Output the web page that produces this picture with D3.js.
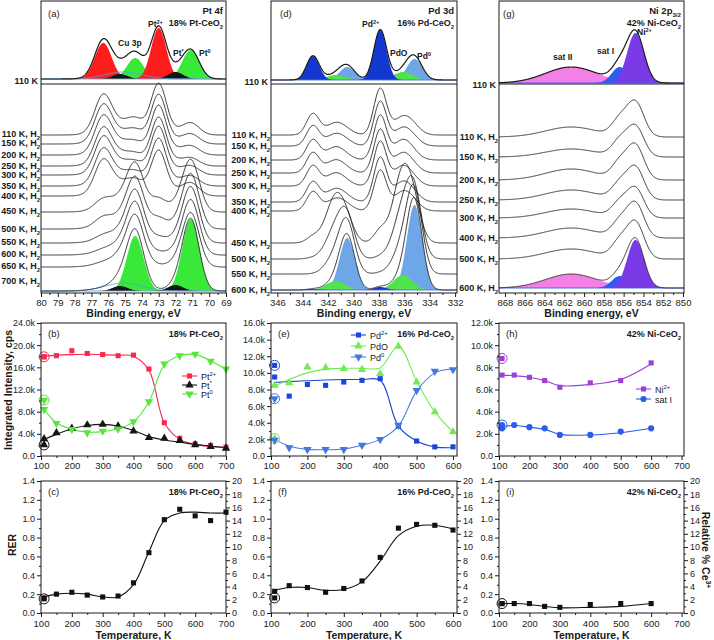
<!DOCTYPE html>
<html><head><meta charset="utf-8">
<script src="https://cdn.jsdelivr.net/npm/d3@7"></script>
<style>body{margin:0;background:#fff}svg{display:block}</style>
</head><body><svg id="chart" width="714" height="640"></svg>
<script>
// ======================= DATA =======================
// (a) Pt 4f spectra: fit components [Pt2+ 7/2, Pt2+ 5/2, Pt0 7/2, Pt0 5/2, Pt* 7/2, Pt* 5/2, Cu 3p]
const ptCenters    = [73.0, 76.3, 71.1, 74.4, 72.0, 75.3, 75.1];
const ptSigmas     = [0.45, 0.50, 0.50, 0.50, 0.45, 0.45, 1.10];
const ptFitHeights = [51, 36, 29, 21, 7, 5, 7];
const ptFitOffset  = 5;
const ptTempLabels = ["110 K","150 K","200 K","250 K","300 K","350 K","400 K","450 K","500 K","550 K","600 K","650 K","700 K"];
const ptOffsets    = [158,149,138,127,118,107,97,81,64,50,38,26,2];
const ptLabelLevels= [159,150,138,127,118,107,97,82,64,51,39,27,12];
const ptHeights = [
  [50,36,12,10,3,2,9],[48,35,10,8,3,2,9],[48,35,9,7,4,3,9],[47,34,8,6,4,3,9],
  [47,34,9,7,4,3,9],[46,33,10,8,4,3,9],[44,32,13,10,4,3,9],[12,9,52,42,5,4,9],
  [10,8,55,45,4,3,9],[5,4,56,46,4,3,9],[2,2,55,46,4,3,9],[1,1,54,45,4,3,9],[0,0,72,55,6,5,8]
];
// (d) Pd 3d spectra: [Pd2+ 5/2, Pd2+ 3/2, Pd0 5/2, Pd0 3/2, PdO 5/2, PdO 3/2]
const pdCenters    = [337.9, 343.2, 335.2, 340.5, 336.1, 341.4];
const pdSigmas     = [0.50, 0.50, 0.60, 0.60, 0.75, 0.75];
const pdFitHeights = [50, 24, 21, 13, 8, 5];
const pdFitOffset  = 4;
const pdTempLabels = ["110 K","150 K","200 K","250 K","300 K","350 K","400 K","450 K","500 K","550 K","600 K"];
const pdOffsets    = [158,147,133,120,107,91,82,50,34,19,3];
const pdHeights = [
  [46,21,4,2,18,12],[44,20,3,2,18,12],[44,20,2,1,20,13],[43,20,2,1,20,13],
  [44,20,2,1,20,13],[44,20,3,2,20,13],[40,19,4,3,19,12],[12,6,20,12,72,46],
  [2,1,55,35,48,30],[1,0,75,47,28,18],[3,1,85,52,15,9]
];
// (g) Ni 2p3/2 spectra: [Ni2+, sat I, sat II]
const niCenters    = [854.8, 856.4, 861.3];
const niSigmas     = [0.85, 0.80, 2.6];
const niFitHeights = [50, 16, 16];
const niFitOffset  = 1;
const niTempLabels = ["110 K","150 K","200 K","250 K","300 K","400 K","500 K","600 K"];
const niOffsets    = [156,136,113,93,75,55,34,5];
const niHeights = [[34,16,10],[30,15,8],[34,16,11],[32,15,10],[29,14,9],[34,15,10],[36,16,10],[48,12,14]];

// (b) integrated intensities, k cps
const tempsPt   = [110,150,200,250,300,350,400,450,500,550,600,650,700];
const ptPt2     = [17.9,18.1,19.0,18.5,18.3,18.1,18.2,15.7,6.0,3.2,2.2,1.9,1.6];
const ptPtStar  = [3.1,4.2,5.0,5.6,5.7,5.4,4.5,3.3,3.2,2.8,2.0,1.7,1.4];
const ptPt0     = [8.4,5.9,4.8,4.2,4.5,4.9,6.2,9.8,16.6,18.1,18.4,17.1,15.7];
const ptFitPt2  = [18.0,18.2,18.3,18.35,18.3,18.2,18.0,15.5,6.0,3.0,2.1,1.7,1.6];
const ptFitStar = [3.0,3.9,4.9,5.5,5.7,5.4,4.6,3.5,2.9,2.5,2.1,1.8,1.5];
const ptFitPt0  = [8.4,6.0,4.8,4.3,4.4,4.9,6.2,9.8,16.4,18.1,18.3,17.2,15.6];
const ptFresh   = [17.9, 2.0, 10.1];
// (e)
const tempsPd   = [110,150,200,250,300,350,400,450,500,550,600];
const pdPd2     = [9.5,7.2,8.6,8.5,8.9,9.1,9.3,3.6,1.8,1.1,1.1];
const pdPdO     = [8.5,8.8,10.7,10.6,10.5,10.4,9.9,13.2,8.9,5.3,2.9];
const pdPd0     = [1.9,1.0,0.8,0.8,0.8,1.3,2.0,3.7,7.9,10.2,10.4];
const pdFitPd2  = [8.85,8.95,9.05,9.15,9.2,9.2,9.1,3.6,1.8,1.1,1.0];
const pdFitPdO  = [8.4,9.2,10.0,10.45,10.55,10.55,10.6,13.2,9.0,5.3,2.9];
const pdFitPd0  = [2.0,1.2,0.8,0.75,0.85,1.3,2.0,3.6,7.8,10.0,10.5];
const pdFresh   = [10.9, 2.1, 6.9];
// (h)
const tempsNi   = [110,150,200,250,300,400,500,600];
const niNi2     = [7.3,7.3,7.1,6.8,6.2,6.6,6.8,8.4];
const niSat     = [2.5,2.8,2.6,2.5,1.9,1.9,2.2,2.5];
const niFitNi2  = [7.3,7.25,7.1,6.8,6.35,6.45,6.9,8.3];
const niFitSat  = [2.65,2.75,2.6,2.4,1.95,1.9,2.1,2.5];
const niFresh   = [8.8, 2.8];
// (c) (f) (i) RER
const rerPt     = [0.16,0.20,0.22,0.19,0.17,0.18,0.32,0.64,0.99,1.10,1.03,0.98,1.07];
const rerPtFit  = [0.17,0.20,0.21,0.20,0.17,0.17,0.30,0.65,0.98,1.06,1.07,1.06,1.06];
const rerPd     = [0.23,0.29,0.27,0.22,0.26,0.34,0.59,0.90,0.94,0.93,0.88];
const rerPdFit  = [0.24,0.27,0.27,0.24,0.25,0.33,0.55,0.82,0.92,0.93,0.89];
const rerNi     = [0.10,0.10,0.10,0.07,0.06,0.09,0.10,0.10];
const rerNiFit  = [0.10,0.10,0.09,0.07,0.055,0.06,0.07,0.10];
const rerFresh  = [0.15, 0.16, 0.10];

// ======================= DRAWING =======================
const FONT = "'Liberation Sans', Arial, Helvetica, sans-serif";
const INK = "#1a1a1a";
const svg = d3.select("#chart");
svg.append("rect").attr("width",714).attr("height",640).attr("fill","#fff");
const COLS = [[41,226],[271,457],[499,684]];
const SPEC = {top:1, split:84, bot:293};
const MID = {top:323, bot:456};
const LOW = {top:481, bot:613};

function rich(parent, x, y, parts, opt) {
  opt = opt || {};
  const size = opt.size || 9;
  const t = parent.append("text").attr("x", x).attr("y", y)
    .attr("font-family", FONT).attr("font-size", size)
    .attr("font-weight", opt.weight || "normal")
    .attr("text-anchor", opt.anchor || "start").attr("fill", opt.fill || INK);
  if (opt.transform) t.attr("transform", opt.transform);
  let shift = 0;
  parts.forEach(p => {
    const [str, kind] = typeof p === "string" ? [p, "n"] : p;
    const target = kind === "sup" ? -size * 0.4 : kind === "sub" ? size * 0.28 : 0;
    const ts = t.append("tspan").text(str);
    if (target - shift !== 0) ts.attr("dy", target - shift);
    if (kind !== "n") ts.attr("font-size", size * 0.65);
    shift = target;
  });
  return t;
}

function axis(orient, scale, majors, minors, fmt, pos, pad, fs) {
  const mk = {bottom: d3.axisBottom, left: d3.axisLeft, right: d3.axisRight}[orient];
  const tr = orient === "bottom" ? `translate(0,${pos})` : `translate(${pos},0)`;
  const gm = svg.append("g").attr("transform", tr).call(mk(scale).tickValues(minors).tickSize(2).tickFormat(""));
  const gM = svg.append("g").attr("transform", tr).call(mk(scale).tickValues(majors).tickSize(4).tickPadding(pad || 2).tickFormat(fmt));
  [gm, gM].forEach(s => { s.select(".domain").remove(); s.selectAll("line").attr("stroke", INK); });
  gM.selectAll("text").attr("font-size", fs || 9.5).attr("font-family", FONT).attr("fill", "#222");
}

const gauss = (x, c, s, h) => h * Math.exp(-((x - c) ** 2) / (2 * s * s));

function spectraPanel(p) {
  const [x0, x1] = COLS[p.col];
  const x = d3.scaleLinear().domain(p.xDomain).range([x0, x1]);
  const yT = d3.scaleLinear().domain([0, SPEC.split - SPEC.top]).range([SPEC.split, SPEC.top]);
  const yL = d3.scaleLinear().domain([0, SPEC.bot - SPEC.split]).range([SPEC.bot, SPEC.split]);
  const id = "clipS" + p.col;
  svg.append("clipPath").attr("id", id).append("rect").attr("x", x0).attr("y", SPEC.top)
    .attr("width", x1 - x0).attr("height", SPEC.bot - SPEC.top);
  const g = svg.append("g").attr("clip-path", `url(#${id})`);
  const xs = d3.range(0, 701).map(i => p.xDomain[0] + (p.xDomain[1] - p.xDomain[0]) * i / 700);
  const all = d3.range(p.centers.length);
  const sum = (h, idx, xv) => idx.reduce((s, i) => s + gauss(xv, p.centers[i], p.sigmas[i], h[i]), 0);
  function drawFit(h, off, y) {
    p.groups.forEach(gr => {
      const pts = xs.map(xv => [xv, sum(h, gr.idx, xv)]);
      if (gr.fill) {
        g.append("path").datum(pts).attr("fill", gr.color).attr("stroke", "none")
          .attr("d", d3.area().x(d => x(d[0])).y0(y(off)).y1(d => y(off + d[1])));
      } else {
        g.append("path").datum(pts).attr("fill", "none").attr("stroke", gr.color).attr("stroke-width", 0.9)
          .attr("d", d3.line().x(d => x(d[0])).y(d => y(off + d[1])));
      }
    });
    g.append("line").attr("x1", x0).attr("x2", x1).attr("y1", y(off)).attr("y2", y(off))
      .attr("stroke", p.baseColor).attr("stroke-width", 0.9);
  }
  function envelope(h, off, y, w) {
    const pts = xs.map(xv => [xv, off + sum(h, all, xv)]);
    g.append("path").datum(pts).attr("fill", "none").attr("stroke", INK).attr("stroke-width", w)
      .attr("stroke-linejoin", "round").attr("d", d3.line().x(d => x(d[0])).y(d => y(d[1])));
  }
  drawFit(p.fitHeights, p.fitOffset, yT);
  envelope(p.fitHeights, p.fitOffset, yT, 1.2);
  p.offsets.forEach((off, j) => {
    if (j === p.offsets.length - 1) drawFit(p.heights[j], off, yL);
    envelope(p.heights[j], off, yL, 0.9);
  });
  svg.append("rect").attr("x", x0).attr("y", SPEC.top).attr("width", x1 - x0).attr("height", SPEC.bot - SPEC.top)
    .attr("fill", "none").attr("stroke", INK).attr("stroke-width", 1);
  svg.append("line").attr("x1", x0).attr("x2", x1).attr("y1", SPEC.split).attr("y2", SPEC.split).attr("stroke", INK);
  axis("bottom", x, p.majors, p.minors, d3.format("d"), SPEC.bot, 2);
  rich(svg, (x0 + x1) / 2, 317, ["Binding energy, eV"], {size: 10.5, weight: "bold", anchor: "middle"});
  rich(svg, x0 - 3, yT(p.fitOffset) + 5, ["110 K"], {size: 9, weight: "bold", anchor: "end"});
  p.labels.forEach((t, j) => {
    const lv = p.labelLevels ? p.labelLevels[j] : p.offsets[j];
    rich(svg, x0 - 1, yL(lv) + 3, [t + ", H", ["2", "sub"]], {size: 9, weight: "bold", anchor: "end"});
  });
  p.texts.forEach(t => rich(svg, t.x, t.y, t.parts, t.opt));
}

spectraPanel({
  col: 0, xDomain: [80, 69], centers: ptCenters, sigmas: ptSigmas, fitHeights: ptFitHeights, fitOffset: ptFitOffset,
  offsets: ptOffsets, heights: ptHeights, labels: ptTempLabels, labelLevels: ptLabelLevels, baseColor: "#7fa8d8",
  groups: [{idx:[2,3], fill:true, color:"#3ae83a"}, {idx:[0,1], fill:true, color:"#ff1c1c"},
           {idx:[4,5], fill:true, color:"#151515"}, {idx:[6], fill:false, color:"#4aa6e0"}],
  majors: d3.range(69, 81, 1), minors: d3.range(69.5, 80, 1),
  texts: [
    {x:48, y:17, parts:["(a)"], opt:{size:9.5}},
    {x:223, y:14, parts:["Pt 4f"], opt:{size:9.5, weight:"bold", anchor:"end"}},
    {x:223, y:26, parts:["18% Pt-CeO", ["2","sub"]], opt:{size:9, weight:"bold", anchor:"end"}},
    {x:118, y:46, parts:["Cu 3p"], opt:{size:8.5, weight:"bold"}},
    {x:148, y:27, parts:["Pt", ["2+","sup"]], opt:{size:8.5, weight:"bold"}},
    {x:173, y:56, parts:["Pt", ["*","sup"]], opt:{size:8.5, weight:"bold"}},
    {x:199, y:56, parts:["Pt", ["0","sup"]], opt:{size:8.5, weight:"bold"}}
  ]
});
spectraPanel({
  col: 1, xDomain: [346.5, 331.85], centers: pdCenters, sigmas: pdSigmas, fitHeights: pdFitHeights, fitOffset: pdFitOffset,
  offsets: pdOffsets, heights: pdHeights, labels: pdTempLabels, baseColor: "#4b6fd6",
  groups: [{idx:[2,3], fill:true, color:"#6fa6e8"}, {idx:[4,5], fill:true, color:"#4ee44e"},
           {idx:[0,1], fill:true, color:"#1238d0"}],
  majors: d3.range(332, 347, 2), minors: d3.range(333, 346, 2),
  texts: [
    {x:280, y:17, parts:["(d)"], opt:{size:9.5}},
    {x:454, y:14, parts:["Pd 3d"], opt:{size:9.5, weight:"bold", anchor:"end"}},
    {x:454, y:26, parts:["16% Pd-CeO", ["2","sub"]], opt:{size:9, weight:"bold", anchor:"end"}},
    {x:362, y:27, parts:["Pd", ["2+","sup"]], opt:{size:8.5, weight:"bold"}},
    {x:390, y:56, parts:["PdO"], opt:{size:8.5, weight:"bold"}},
    {x:417, y:59, parts:["Pd", ["0","sup"]], opt:{size:8.5, weight:"bold"}}
  ]
});
spectraPanel({
  col: 2, xDomain: [868.6, 849.9], centers: niCenters, sigmas: niSigmas, fitHeights: niFitHeights, fitOffset: niFitOffset,
  offsets: niOffsets, heights: niHeights, labels: niTempLabels, baseColor: "#3d5ff0",
  groups: [{idx:[2], fill:true, color:"#f47fe6"}, {idx:[1], fill:true, color:"#2f5cf0"},
           {idx:[0], fill:true, color:"#7a3ae6"}],
  majors: d3.range(850, 869, 2), minors: d3.range(851, 868, 2),
  texts: [
    {x:503, y:17, parts:["(g)"], opt:{size:9.5}},
    {x:681, y:14, parts:["Ni 2p", ["3/2","sub"]], opt:{size:9.5, weight:"bold", anchor:"end"}},
    {x:681, y:26, parts:["42% Ni-CeO", ["2","sub"]], opt:{size:9, weight:"bold", anchor:"end"}},
    {x:637, y:35, parts:["Ni", ["2+","sup"]], opt:{size:8.5, weight:"bold"}},
    {x:597, y:54, parts:["sat I"], opt:{size:8.5, weight:"bold"}},
    {x:553, y:60, parts:["sat II"], opt:{size:8.5, weight:"bold"}}
  ]
});

// ---------- series panels ----------
const SYM = {
  square: d3.symbol().type(d3.symbolSquare).size(26)(),
  up: d3.symbol().type(d3.symbolTriangle).size(30)(),
  circle: d3.symbol().type(d3.symbolCircle).size(30)()
};
function marker(parent, cx, cy, kind, color) {
  const path = kind === "down" ? SYM.up : SYM[kind];
  parent.append("path").attr("d", path).attr("fill", color)
    .attr("transform", `translate(${cx},${cy})` + (kind === "down" ? " rotate(180)" : ""));
}

function seriesPanel(p) {
  const [x0, x1] = COLS[p.col];
  const x = d3.scaleLinear().domain(p.xDomain).range([x0, x1]);
  const y = d3.scaleLinear().domain(p.yDomain).range([p.bot, p.top]);
  const line = d3.line().curve(d3.curveCatmullRom.alpha(0.5)).x(d => x(d[0])).y(d => y(d[1]));
  const g = svg.append("g");
  p.series.forEach(s => {
    g.append("path").datum(s.temps.map((t, i) => [t, s.fit[i]])).attr("fill", "none")
      .attr("stroke", s.lineColor || s.color).attr("stroke-width", 1.1).attr("d", line);
  });
  p.series.forEach(s => {
    s.temps.forEach((t, i) => marker(g, x(t), y(s.vals[i]), s.sym, s.color));
    marker(g, x(110), y(s.fresh), s.sym, s.color);
    g.append("circle").attr("cx", x(110)).attr("cy", y(s.fresh)).attr("r", 5)
      .attr("fill", "none").attr("stroke", s.color).attr("stroke-width", 1);
  });
  svg.append("rect").attr("x", x0).attr("y", p.top).attr("width", x1 - x0).attr("height", p.bot - p.top)
    .attr("fill", "none").attr("stroke", INK).attr("stroke-width", 1);
  const xm = d3.range(100, p.xDomain[1] + 1, 100), xn = d3.range(150, p.xDomain[1], 100);
  axis("bottom", x, xm, xn, d3.format("d"), p.bot, p.xPad || 2, 9.5);
  axis("left", y, p.yMajors, p.yMinors, p.yFmt, x0, 2, 9);
  if (p.right) {
    const yr = d3.scaleLinear().domain([0, 20]).range([p.bot, p.top]);
    axis("right", yr, d3.range(0, 21, 2), d3.range(1, 20, 2), d3.format("d"), x1, 2, 9);
  }
  rich(svg, x0 + 7, p.top + 14, [p.letter], {size: 9.5});
  rich(svg, x1 - 3, p.top + 14, p.sample, {size: 9, weight: "bold", anchor: "end"});
  if (p.legend) {
    const L = p.legend;
    p.series.forEach((s, i) => {
      const ly = L.y + i * L.dy;
      svg.append("line").attr("x1", L.x).attr("x2", L.x + 15).attr("y1", ly).attr("y2", ly)
        .attr("stroke", s.lineColor || s.color).attr("stroke-width", 1.1);
      marker(svg, L.x + 7.5, ly, s.sym, s.color);
      rich(svg, L.x + 19, ly + 3.5, s.label, {size: 9});
    });
  }
  if (p.bottomTitle) rich(svg, (x0 + x1) / 2, 639, ["Temperature, K"], {size: 10.5, weight: "bold", anchor: "middle"});
}
const kFmt = d => d === 0 ? "0.0" : d.toFixed(1) + "k";
const odd = (a, b) => d3.range(a, b, 2);

seriesPanel({col:0, top:MID.top, bot:MID.bot, xDomain:[100,700], yDomain:[0,24],
  yMajors:d3.range(0,25,4), yMinors:d3.range(2,24,4), yFmt:kFmt, letter:"(b)",
  sample:["18% Pt-CeO", ["2","sub"]], legend:{x:182, y:376, dy:9},
  series:[
    {temps:tempsPt, vals:ptPt2, fit:ptFitPt2, fresh:ptFresh[0], sym:"square", color:"#f52a4e", label:["Pt", ["2+","sup"]]},
    {temps:tempsPt, vals:ptPtStar, fit:ptFitStar, fresh:ptFresh[1], sym:"up", color:"#151515", label:["Pt", ["*","sup"]]},
    {temps:tempsPt, vals:ptPt0, fit:ptFitPt0, fresh:ptFresh[2], sym:"down", color:"#58e63c", label:["Pt", ["0","sup"]]}
  ]});
seriesPanel({col:1, top:MID.top, bot:MID.bot, xDomain:[100,611], yDomain:[0,16],
  yMajors:d3.range(0,17,2), yMinors:odd(1,16), yFmt:kFmt, letter:"(e)",
  sample:["16% Pd-CeO", ["2","sub"]], legend:{x:351, y:335, dy:11},
  series:[
    {temps:tempsPd, vals:pdPd2, fit:pdFitPd2, fresh:pdFresh[0], sym:"square", color:"#1846d6", label:["Pd", ["2+","sup"]]},
    {temps:tempsPd, vals:pdPdO, fit:pdFitPdO, fresh:pdFresh[1], sym:"up", color:"#74ea56", label:["PdO"]},
    {temps:tempsPd, vals:pdPd0, fit:pdFitPd0, fresh:pdFresh[2], sym:"down", color:"#4477e2", label:["Pd", ["0","sup"]]}
  ]});
seriesPanel({col:2, top:MID.top, bot:MID.bot, xDomain:[100,708], yDomain:[0,12],
  yMajors:d3.range(0,13,2), yMinors:odd(1,12), yFmt:kFmt, letter:"(h)",
  sample:["42% Ni-CeO", ["2","sub"]], legend:{x:636, y:389, dy:10},
  series:[
    {temps:tempsNi, vals:niNi2, fit:niFitNi2, fresh:niFresh[0], sym:"square", color:"#9a3fd8", label:["Ni", ["2+","sup"]]},
    {temps:tempsNi, vals:niSat, fit:niFitSat, fresh:niFresh[1], sym:"circle", color:"#2d5bea", label:["sat I"]}
  ]});

const rFmt = d => d.toFixed(1);
const rMaj = d3.range(0, 8).map(i => i * 0.2), rMin = d3.range(0, 7).map(i => i * 0.2 + 0.1);
seriesPanel({col:0, top:LOW.top, bot:LOW.bot, xDomain:[100,700], yDomain:[0,1.4], xPad:3,
  yMajors:rMaj, yMinors:rMin, yFmt:rFmt, letter:"(c)", right:true, bottomTitle:true,
  sample:["18% Pt-CeO", ["2","sub"]],
  series:[{temps:tempsPt, vals:rerPt, fit:rerPtFit, fresh:rerFresh[0], sym:"square", color:"#111"}]});
seriesPanel({col:1, top:LOW.top, bot:LOW.bot, xDomain:[100,611], yDomain:[0,1.4], xPad:3,
  yMajors:rMaj, yMinors:rMin, yFmt:rFmt, letter:"(f)", right:true, bottomTitle:true,
  sample:["16% Pd-CeO", ["2","sub"]],
  series:[{temps:tempsPd, vals:rerPd, fit:rerPdFit, fresh:rerFresh[1], sym:"square", color:"#111"}]});
seriesPanel({col:2, top:LOW.top, bot:LOW.bot, xDomain:[100,708], yDomain:[0,1.4], xPad:3,
  yMajors:rMaj, yMinors:rMin, yFmt:rFmt, letter:"(i)", right:true, bottomTitle:true,
  sample:["42% Ni-CeO", ["2","sub"]],
  series:[{temps:tempsNi, vals:rerNi, fit:rerNiFit, fresh:rerFresh[2], sym:"square", color:"#111"}]});

// axis titles
rich(svg, 0, 0, ["Integrated Intensity, cps"], {size:10.5, weight:"bold", anchor:"middle", transform:"translate(12,390) rotate(-90)"});
rich(svg, 0, 0, ["RER"], {size:10.5, weight:"bold", anchor:"middle", transform:"translate(16,545) rotate(-90)"});
rich(svg, 0, 0, ["Relative % Ce", ["3+","sup"]], {size:10.5, weight:"bold", anchor:"middle", transform:"translate(702,550) rotate(90)"});
</script></body></html>
